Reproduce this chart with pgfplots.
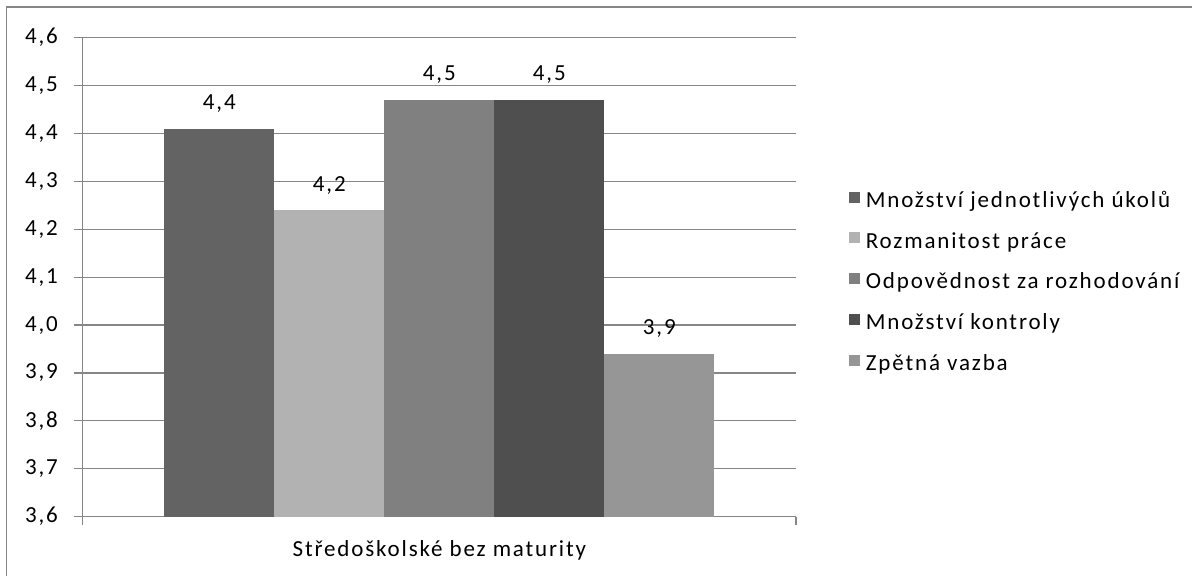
\documentclass[border=0pt]{standalone}
\usepackage{fontspec}
\setmainfont{Carlito}[LetterSpace=8]
\usepackage{pgfplots}
\pgfplotsset{compat=1.18}

\definecolor{gridgray}{RGB}{134,134,134}
\definecolor{serA}{RGB}{99,99,99}
\definecolor{serB}{RGB}{178,178,178}
\definecolor{serC}{RGB}{128,128,128}
\definecolor{serD}{RGB}{79,79,79}
\definecolor{serE}{RGB}{150,150,150}

\begin{document}
\begin{tikzpicture}[font=\fontsize{23bp}{27bp}\selectfont]
\path[use as bounding box] (0,0) rectangle (1192bp,576bp);
\draw[gridgray, line width=1.3bp] (6.7bp,0) -- (6.7bp,569bp) -- (1192bp,569bp);
\begin{axis}[
  at={(82.7bp,59.3bp)}, anchor=south west,
  scale only axis, width=713.3bp, height=479bp,
  ybar=0pt, bar width=110bp,
  xmin=-0.5, xmax=0.5, ymin=3.6, ymax=4.6,
  xtick={-0.5,0.5}, xticklabels={},
  ytick={3.6,3.7,3.8,3.9,4.0,4.1,4.2,4.3,4.4,4.5,4.6},
  axis lines=left,
  axis line style={-, draw=gridgray, line width=1.5bp},
  ymajorgrids, grid style={draw=gridgray, line width=1.2bp},
  tick align=outside, major tick length=8.7bp,
  tick style={draw=gridgray, line width=1.2bp},
  /pgf/number format/use comma,
  /pgf/number format/fixed,
  /pgf/number format/fixed zerofill,
  /pgf/number format/precision=1,
  /pgf/number format/assume math mode=true,
  yticklabel style={inner sep=0pt, anchor=east, xshift=-16bp},
  xlabel={Středoškolské bez maturity},
  xlabel style={at={(axis description cs:0.5,0)}, anchor=base, yshift=-40bp, inner sep=0pt},
  point meta=y,
  nodes near coords,
  nodes near coords style={anchor=base, yshift=19bp, inner sep=0pt, text=black},
  legend style={at={(1.0701,0.488)}, anchor=west, draw=none, fill=none,
    row sep=21bp, column sep=5.7bp,
    nodes={inner sep=0pt, text height=13.5bp, text depth=4bp}},
  legend cell align=left,
  legend image code/.code={\fill[#1,/tikz/.cd,draw=none] (0bp,0bp) rectangle (11bp,11bp);},
]
\addplot[fill=serA, draw=none] coordinates {(0,4.41)};
\addplot[fill=serB, draw=none] coordinates {(0,4.24)};
\addplot[fill=serC, draw=none] coordinates {(0,4.47)};
\addplot[fill=serD, draw=none] coordinates {(0,4.47)};
\addplot[fill=serE, draw=none] coordinates {(0,3.94)};
\legend{Množství jednotlivých úkolů, Rozmanitost práce, Odpovědnost za rozhodování, Množství kontroly, Zpětná vazba}
\end{axis}
\end{tikzpicture}
\end{document}
